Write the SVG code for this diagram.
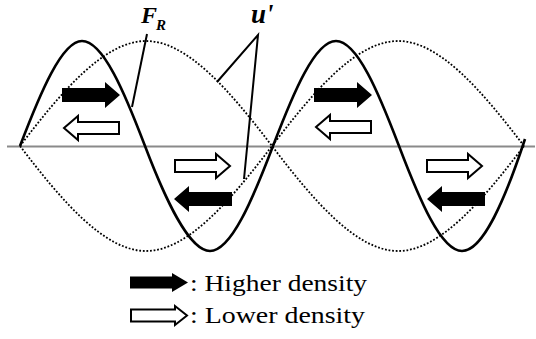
<svg xmlns="http://www.w3.org/2000/svg" width="536" height="339" viewBox="0 0 536 339">
<style>
.axis{stroke:#8a8a8a;stroke-width:2;fill:none}
.dot{stroke:#000;stroke-width:1.8;stroke-dasharray:1.8 1.8;fill:none}
.solid{stroke:#000;stroke-width:2.6;fill:none;stroke-linejoin:round}
.lead{stroke:#000;stroke-width:2;fill:none}
.hi{fill:#000}
.lo{fill:#fff;stroke:#000;stroke-width:2;stroke-linejoin:miter}
.lbl{font-style:italic;font-weight:bold;fill:#000}
.leg{font-size:24px;fill:#000}
</style>
<defs>
<path id="ah" d="M0,-7 H43 V-13 L58,0 L43,13 V7 H0 Z"/>
<path id="al" d="M1,-6 H42 V-12 L56,0 L42,12 V6 H1 Z"/>
</defs>
<g id="axis"><line class="axis" x1="7" y1="146.5" x2="535" y2="146.5"/></g>
<g id="u-prime-curves">
<path class="dot" d="M20,146 C61.1,92.2 104,41 146,41 C188,41 230.9,92.2 272,146 C313.1,92.2 356,41 398,41 C440,41 482.9,92.2 524,146"/>
<path class="dot" d="M20,146 C61.1,199.8 104,251 146,251 C188,251 230.9,199.8 272,146 C313.1,199.8 356,251 398,251 C440,251 482.9,199.8 524,146"/>
</g>
<g id="FR-curve">
<path class="solid" d="M20,146 C40.5,92.2 62,41 82,41 C103,41 124.5,92.2 145,146 C165.5,199.8 189,251 210,251 C231,251 252.5,199.8 273,146 C293.5,92.2 315,41 336,41 C357,41 378.5,92.2 399,146 C419.5,199.8 441,251 462,251 C483,251 505,199.8 525,139"/>
</g>
<g id="arrows">
<use href="#ah" class="hi" transform="translate(62,95)"/>
<use href="#al" class="lo" transform="translate(120,128) scale(-1,1)"/>
<use href="#al" class="lo" transform="translate(174,166)"/>
<use href="#ah" class="hi" transform="translate(232,199) scale(-1,1)"/>
<use href="#ah" class="hi" transform="translate(314,95)"/>
<use href="#al" class="lo" transform="translate(372,127) scale(-1,1)"/>
<use href="#al" class="lo" transform="translate(426,166)"/>
<use href="#ah" class="hi" transform="translate(485,199) scale(-1,1)"/>
</g>
<g id="connectors">
<polyline class="lead" points="147,34 132,107"/>
<polyline class="lead" points="217,82 258,35 244,179"/>
</g>
<g id="label-FR">
<text class="lbl" font-family="'Liberation Serif', 'Times New Roman', serif" x="141" y="23" font-size="24">F</text>
<text class="lbl" font-family="'Liberation Serif', 'Times New Roman', serif" x="156" y="30" font-size="15">R</text>
</g>
<g id="label-u">
<text class="lbl" font-family="'Liberation Serif', 'Times New Roman', serif" x="251" y="23" font-size="27">u'</text>
</g>
<g id="legend">
<path class="hi" d="M130,276.5 H172 V273 L188,282.5 L172,292 V288.5 H130 Z"/>
<text class="leg" font-family="'Liberation Serif', 'Times New Roman', serif" x="190" y="291" textLength="177" lengthAdjust="spacingAndGlyphs">: Higher density</text>
<path class="lo" d="M131,309.5 H175 V306 L187,315.5 L175,325 V321.5 H131 Z"/>
<text class="leg" font-family="'Liberation Serif', 'Times New Roman', serif" x="190" y="323" textLength="175" lengthAdjust="spacingAndGlyphs">: Lower density</text>
</g>
</svg>
